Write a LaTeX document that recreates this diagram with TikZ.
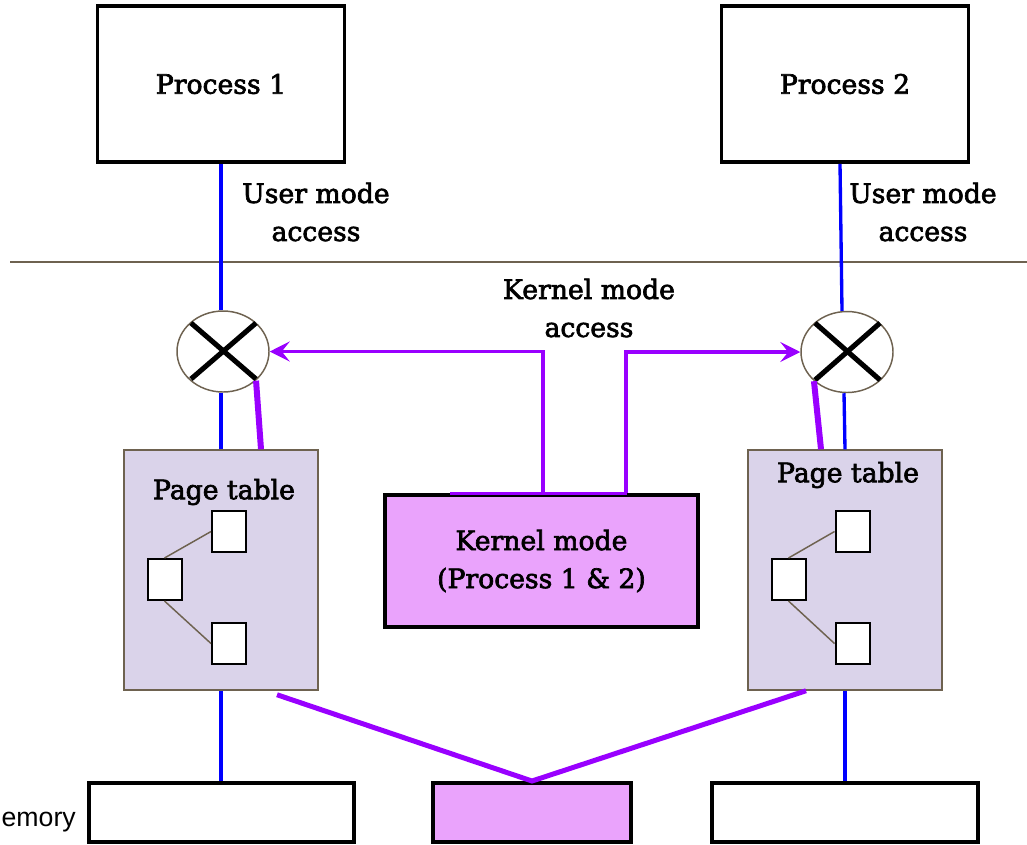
\documentclass[tikz,border=0pt]{standalone}
\usepackage{fontspec}
\setmainfont{DejaVu Serif}[BoldFont={DejaVu Serif}, BoldFeatures={FakeBold=2.5}]
\newfontfamily\memfont{Liberation Sans}
\usetikzlibrary{arrows.meta,calc,shapes.geometric}

\definecolor{umblue}{RGB}{0,0,255}
\definecolor{kpurple}{RGB}{153,0,255}
\definecolor{kfill}{RGB}{234,163,252}
\definecolor{ptfill}{RGB}{218,211,234}
\definecolor{edgebrown}{RGB}{110,98,80}

\newcommand\lblfont{\fontsize{20}{28.5}\selectfont\bfseries}

\begin{document}
\begin{tikzpicture}[x=0.75pt,y=-0.75pt,
  procbox/.style={draw=black, line width=2.7pt, minimum width=185pt,
    minimum height=117pt, inner sep=0pt, font=\lblfont},
  gate/.style={ellipse, draw=edgebrown, line width=1.1pt, fill=white,
    minimum width=69pt, minimum height=60.75pt, inner sep=0pt},
  cross/.style={line width=3.8pt, black},
  ptable/.style={draw=edgebrown, fill=ptfill, line width=1.1pt,
    minimum width=145.5pt, minimum height=180pt, inner sep=0pt},
  cell/.style={draw=black, fill=white, line width=1.5pt,
    minimum width=25.5pt, minimum height=30.75pt, inner sep=0pt},
  celllink/.style={draw=edgebrown, line width=1.1pt},
  kernbox/.style={draw=black, fill=kfill, line width=2.8pt,
    minimum width=234.75pt, minimum height=99pt, inner sep=0pt,
    align=center, font=\lblfont},
  memcell/.style={draw=black, line width=3pt, minimum height=44.25pt, inner sep=0pt},
  label/.style={align=center, font=\lblfont, inner sep=0pt},
  userlink/.style={draw=umblue, line width=2.5pt},
  kernlink/.style={draw=kpurple, line width=4.5pt},
  kernarrow/.style={draw=kpurple, line width=2.6pt,
    -{Stealth[length=15pt, width=15pt, inset=6pt]}},
  kernshare/.style={draw=kpurple, line width=3.75pt},
]
\useasboundingbox (0,0) rectangle (1027,844);

% processes
\node[procbox] (p1) at (221,84) {Process 1};
\node[procbox] (p2) at (845,84) {Process 2};

% user / kernel separator
\coordinate (sepL) at (10,262);
\coordinate (sepR) at (1027,262);
\draw[edgebrown, line width=1.1pt] (sepL) -- (sepR);

\node[label] (ua1) at (316,212) {User mode\\access};
\node[label] (ua2) at (923,212) {User mode\\access};
\node[label] (ka) at (589,308) {Kernel mode\\access};

% access gates
\node[gate] (c1) at (223,351.5) {};
\node[gate] (c2) at (847,352) {};
\draw[cross] ($(c1.center)+(-32,-28.5)$) -- ($(c1.center)+(33,27.5)$);
\draw[cross] ($(c1.center)+(33,-28.5)$) -- ($(c1.center)+(-32,27.5)$);
\draw[cross] ($(c2.center)+(-32,-29)$) -- ($(c2.center)+(33,28)$);
\draw[cross] ($(c2.center)+(33,-29)$) -- ($(c2.center)+(-32,28)$);

% page tables
\node[ptable] (pt1) at (221,570) {};
\node[ptable] (pt2) at (845,570) {};
\node[label] (pt1lbl) at (224,492) {Page table};
\node[label] (pt2lbl) at (848,475) {Page table};

\node[cell] (a1) at (229,531.5) {};
\node[cell] (a2) at (164.5,579.5) {};
\node[cell] (a3) at (229,643.5) {};
\draw[celllink] (a2.north) -- (a1.west);
\draw[celllink] (a2.south) -- (a3.west);

\node[cell] (b1) at (852.5,531.5) {};
\node[cell] (b2) at (788.5,579.5) {};
\node[cell] (b3) at (852.5,643.5) {};
\draw[celllink] (b2.north) -- (b1.west);
\draw[celllink] (b2.south) -- (b3.west);

% kernel
\node[kernbox] (kbox) at (541.5,561) {Kernel mode\\(Process 1 \& 2)};

% memory
\node[memcell, minimum width=198.75pt] (m1) at (221.5,812.5) {};
\node[memcell, minimum width=148.5pt, fill=kfill] (m2) at (532,812.5) {};
\node[memcell, minimum width=199.5pt] (m3) at (845,812.5) {};
\node[anchor=base east, inner sep=0pt, font=\memfont\fontsize{20}{24}\selectfont]
  (memlbl) at (76,826) {Memory};

% user mode paths
\draw[userlink] (p1.south) -- (p1.south |- c1.north);
\draw[userlink] (p1.south |- c1.south) -- (pt1.north);
\draw[userlink] (pt1.south) -- (pt1.south |- m1.north);
\draw[userlink] ($(p2.south)+(-5,0)$) -- ($(c2.north)+(-5,0)$);
\draw[userlink] ($(c2.south)+(-3,0)$) -- (pt2.north);
\draw[userlink] (pt2.south) -- (pt2.south |- m3.north);

% kernel mode paths
\draw[kernlink] (c1.south east) -- ($(pt1.north)+(40,0)$);
\draw[kernlink] (c2.south west) -- ($(pt2.north)+(-24,0)$);
\draw[kernarrow] ($(kbox.north)+(1.5,0)$) |- (c1.east);
\draw[kernarrow] ($(kbox.north)+(84.5,0)$) |- (c2.west);
\draw[draw=kpurple, line width=2.4pt] ($(kbox.north)+(-91.5,0)$) -- ($(kbox.north)+(85.5,0)$);
\draw[kernshare] ($(pt1.south)+(56,4)$) -- (m2.north) -- ($(pt2.south)+(-39,0)$);
\end{tikzpicture}
\end{document}
